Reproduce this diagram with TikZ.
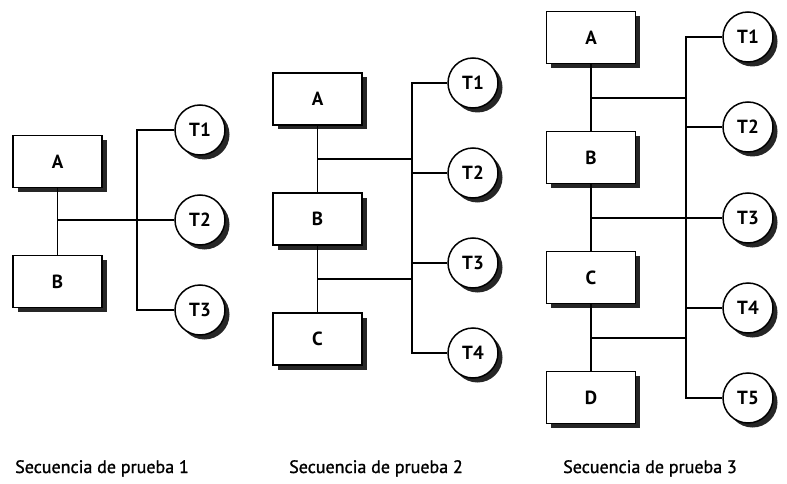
\documentclass[tikz,border=0pt]{standalone}
\usepackage{fontspec}
\setmainfont{PT Sans}
\newfontfamily\capfont[FakeBold=1.2]{PT Sans}
\usetikzlibrary{shadows}
\begin{document}
\begin{tikzpicture}[x=1pt,y=-1pt,
  dshadow/.style={drop shadow={shadow xshift=4.5pt,shadow yshift=-4.5pt,fill=black,opacity=0.85}},
  modbox/.style={draw,line width=1.5pt,fill=white,minimum width=89pt,minimum height=52pt,inner sep=0pt,font=\fontsize{19}{22}\selectfont\bfseries,dshadow},
  tcirc/.style={draw,circle,line width=1.5pt,fill=white,minimum size=50pt,inner sep=0pt,font=\fontsize{19}{22}\selectfont\bfseries,dshadow},
  conn/.style={line width=1.3pt},
  captext/.style={font=\capfont\fontsize{18}{21}\selectfont,anchor=base}]
\useasboundingbox (0,0) rectangle (787,484);
% ---------- diagram 1
\coordinate (d1j) at (57.5,220);
\coordinate (d1bus) at (137,0);
\node[tcirc] (d1t1) at (200,130) {T1};
\node[tcirc] (d1t2) at (200,220) {T2};
\node[tcirc] (d1t3) at (200,310) {T3};
\draw[conn] (d1t1.west) -- (d1t1.west -| d1bus) -- (d1t3.west -| d1bus) -- (d1t3.west);
\draw[conn] (d1j) -- (d1t2.west);
\node[modbox] (d1a) at (57.5,161.5) {A};
\node[modbox] (d1b) at (57.5,281.5) {B};
\draw[conn] (d1a.south) -- (d1b.north);
% ---------- diagram 2
\coordinate (d2j1) at (317.5,159);
\coordinate (d2j2) at (317.5,279);
\coordinate (d2bus) at (412,0);
\node[tcirc] (d2t1) at (473,83) {T1};
\node[tcirc] (d2t2) at (473,173) {T2};
\node[tcirc] (d2t3) at (473,263) {T3};
\node[tcirc] (d2t4) at (473,353) {T4};
\draw[conn] (d2t1.west) -- (d2t1.west -| d2bus) -- (d2t4.west -| d2bus) -- (d2t4.west);
\draw[conn] (d2t2.west) -- (d2t2.west -| d2bus);
\draw[conn] (d2t3.west) -- (d2t3.west -| d2bus);
\draw[conn] (d2j1) -- (d2j1 -| d2bus);
\draw[conn] (d2j2) -- (d2j2 -| d2bus);
\node[modbox] (d2a) at (317.5,99) {A};
\node[modbox] (d2b) at (317.5,219) {B};
\node[modbox] (d2c) at (317.5,339) {C};
\draw[conn] (d2a.south) -- (d2b.north);
\draw[conn] (d2b.south) -- (d2c.north);
% ---------- diagram 3
\coordinate (d3j1) at (591,98);
\coordinate (d3j2) at (591,218);
\coordinate (d3j3) at (591,338);
\coordinate (d3bus) at (686,0);
\node[tcirc] (d3t1) at (748,37) {T1};
\node[tcirc] (d3t2) at (748,127) {T2};
\node[tcirc] (d3t3) at (748,218) {T3};
\node[tcirc] (d3t4) at (748,308) {T4};
\node[tcirc] (d3t5) at (748,398) {T5};
\draw[conn] (d3t1.west) -- (d3t1.west -| d3bus) -- (d3t5.west -| d3bus) -- (d3t5.west);
\draw[conn] (d3t2.west) -- (d3t2.west -| d3bus);
\draw[conn] (d3t4.west) -- (d3t4.west -| d3bus);
\draw[conn] (d3j1) -- (d3j1 -| d3bus);
\draw[conn] (d3j2) -- (d3t3.west);
\draw[conn] (d3j3) -- (d3j3 -| d3bus);
\node[modbox] (d3a) at (591,37.5) {A};
\node[modbox] (d3b) at (591,157.5) {B};
\node[modbox] (d3c) at (591,277.5) {C};
\node[modbox] (d3d) at (591,397.5) {D};
\draw[conn] (d3a.south) -- (d3b.north);
\draw[conn] (d3b.south) -- (d3c.north);
\draw[conn] (d3c.south) -- (d3d.north);
% ---------- captions
\node[captext] (c1) at (102,473) {Secuencia de prueba 1};
\node[captext] (c2) at (376,473) {Secuencia de prueba 2};
\node[captext] (c3) at (650,473) {Secuencia de prueba 3};
\end{tikzpicture}
\end{document}
